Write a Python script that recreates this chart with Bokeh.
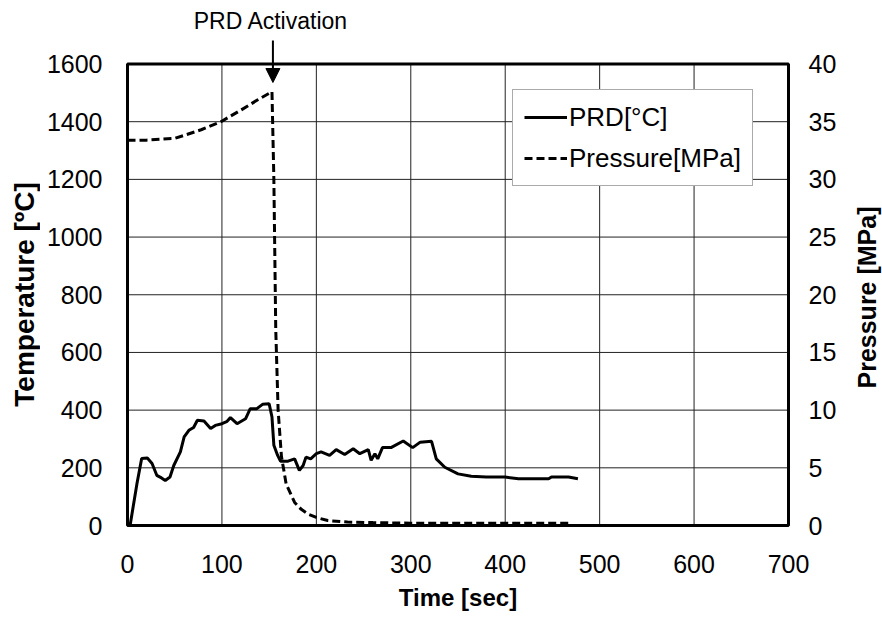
import math
from bokeh.plotting import figure
from bokeh.layouts import row
from bokeh.models import (Range1d, LinearAxis, Legend, LegendItem, Label, Arrow,
                          NormalHead, FixedTicker)
from bokeh.embed import file_html
from bokeh.resources import INLINE

# ---- data ----
temp_time = [0, 3, 10, 15, 21, 26, 31, 36, 40, 45, 49, 56, 60, 65, 70, 74, 81, 88, 93,
             100, 105, 109, 116, 125, 130, 137, 143, 150, 153, 155, 159, 162, 170, 177,
             182, 186, 189, 194, 200, 205, 214, 221, 230, 239, 246, 255, 258, 262, 265,
             270, 279, 292, 302, 310, 322, 327, 336, 350, 364, 380, 400, 414, 446, 449,
             467, 477]
temp_val = [0, 5, 145, 232, 234, 215, 174, 165, 156, 168, 208, 255, 307, 330, 340, 365,
            362, 336, 347, 353, 360, 374, 353, 370, 405, 405, 420, 422, 376, 278, 243,
            223, 223, 231, 191, 208, 237, 231, 249, 255, 243, 263, 246, 266, 249, 263,
            226, 249, 231, 270, 270, 293, 270, 289, 292, 231, 202, 179, 171, 168, 168,
            162, 162, 168, 168, 162]

pres_time = [0, 20, 50, 78, 99, 120, 138, 153, 155, 157, 159.5, 163, 168, 177, 184, 191,
             200, 212, 233, 260, 300, 400, 470]
pres_val = [33.4, 33.4, 33.55, 34.3, 35.0, 36.0, 36.9, 37.6, 30, 17, 10, 6, 3.6, 2.0,
            1.4, 1.0, 0.7, 0.43, 0.3, 0.25, 0.2, 0.2, 0.2]

x_ticks = [0, 100, 200, 300, 400, 500, 600, 700]
temp_ticks = [0, 200, 400, 600, 800, 1000, 1200, 1400, 1600]
pres_ticks = [0, 5, 10, 15, 20, 25, 30, 35, 40]

activation_time = 154
annot_text = "PRD Activation"
x_label = "Time [sec]"
y_label = "Temperature [ºC]"
y2_label = "Pressure [MPa]"

FONT = "Liberation Sans"
W, H = 882, 619
STRIP_W = 40                      # side strips holding the rotated axis titles
BOX_LEFT, BOX_RIGHT = 127, 788    # pixel columns of the plot box
BOX_TOP, BOX_BOTTOM = 63.5, 525   # pixel rows of the plot box
PAD = 3                           # frame padding so the box border is not clipped
FRAME_TOP = 4
FRAME_BOTTOM = BOX_BOTTOM + PAD

t_min, t_max = x_ticks[0], x_ticks[-1]
T_min, T_max = temp_ticks[0], temp_ticks[-1]
P_min, P_max = pres_ticks[0], pres_ticks[-1]

ppx = (BOX_RIGHT - BOX_LEFT) / (t_max - t_min)
ppu = (BOX_BOTTOM - BOX_TOP) / (T_max - T_min)
p_per_T = (P_max - P_min) / (T_max - T_min)

main_w = W - 2 * STRIP_W
border_l = (BOX_LEFT - PAD) - STRIP_W
border_r = (W - STRIP_W) - (BOX_RIGHT + PAD)
border_b = H - FRAME_BOTTOM

x_lo, x_hi = t_min - PAD / ppx, t_max + PAD / ppx
y_lo = T_min - PAD / ppu
y_hi = T_max + (BOX_TOP - FRAME_TOP) / ppu

def ypx(px):
    """temperature-scale value at a pixel row (for annotation placement)"""
    return T_min + (BOX_BOTTOM - px) / ppu

p = figure(width=main_w, height=H, output_backend="svg", toolbar_location=None,
           x_range=Range1d(x_lo, x_hi), y_range=Range1d(y_lo, y_hi),
           min_border_left=border_l, min_border_right=border_r,
           min_border_top=FRAME_TOP, min_border_bottom=border_b)
p.extra_y_ranges = {"p": Range1d(P_min + (y_lo - T_min) * p_per_T,
                                 P_min + (y_hi - T_min) * p_per_T)}

p.outline_line_color = None
p.background_fill_color = "white"
p.border_fill_color = "white"
p.xgrid.visible = False
p.ygrid.visible = False

# grid lines limited to the plot box
p.segment(x0=x_ticks, y0=[T_min] * len(x_ticks), x1=x_ticks, y1=[T_max] * len(x_ticks),
          line_color="#222222", line_width=1)
p.segment(x0=[t_min] * len(temp_ticks), y0=temp_ticks, x1=[t_max] * len(temp_ticks),
          y1=temp_ticks, line_color="#222222", line_width=1)

def style_axis(ax):
    ax.axis_line_color = None
    ax.major_tick_line_color = None
    ax.minor_tick_line_color = None
    ax.major_tick_out = 0
    ax.major_tick_in = 0
    ax.major_label_text_font = FONT
    ax.major_label_text_font_size = "25px"
    ax.major_label_text_color = "black"
    ax.axis_label_text_font = FONT
    ax.axis_label_text_font_style = "bold"
    ax.axis_label_text_color = "black"

xa = p.xaxis[0]
xa.ticker = FixedTicker(ticks=x_ticks)
xa.axis_label = x_label
style_axis(xa)
xa.axis_label_text_font_size = "24px"
xa.major_label_standoff = 26
xa.axis_label_standoff = 8

ya = p.yaxis[0]
ya.ticker = FixedTicker(ticks=temp_ticks)
style_axis(ya)
ya.major_label_standoff = 22

ra = LinearAxis(y_range_name="p", ticker=FixedTicker(ticks=pres_ticks))
style_axis(ra)
ra.major_label_standoff = 17
p.add_layout(ra, "right")

r1 = p.line(temp_time, temp_val, line_color="black", line_width=3)
r2 = p.line(pres_time, pres_val, y_range_name="p", line_color="black",
            line_width=3, line_dash="8 4")

# plot box border
p.quad(left=[t_min], right=[t_max], bottom=[T_min], top=[T_max], fill_color=None,
       line_color="black", line_width=3)

legend = Legend(items=[LegendItem(label="PRD[°C]", renderers=[r1]),
                       LegendItem(label="Pressure[MPa]", renderers=[r2])],
                location=(512 - (BOX_LEFT - PAD), FRAME_BOTTOM - 186))
legend.label_text_font = FONT
legend.label_text_font_size = "26px"
legend.label_text_color = "black"
legend.glyph_width = 43
legend.glyph_height = 32
legend.label_height = 32
legend.label_standoff = 2
legend.padding = 11
legend.spacing = 9
legend.margin = 0
legend.border_line_color = "#555555"
legend.border_line_width = 1
legend.background_fill_color = "white"
legend.background_fill_alpha = 1
p.add_layout(legend)

p.add_layout(Label(x=activation_time - 2, y=ypx(20), text=annot_text,
                   text_align="center", text_baseline="middle", text_font=FONT,
                   text_font_size="23px", text_color="black"))
p.add_layout(Arrow(end=NormalHead(size=14, fill_color="black", line_color="black"),
                   x_start=activation_time, y_start=ypx(40),
                   x_end=activation_time, y_end=ypx(82),
                   line_color="black", line_width=2))

# ---- side strips carrying the rotated axis titles ----
# (the row aligns the strips' frames with the main frame: rows FRAME_TOP..FRAME_BOTTOM)
def strip(text, cx, cy, size):
    s = figure(width=STRIP_W, height=H, output_backend="svg", toolbar_location=None,
               x_range=Range1d(0, STRIP_W),
               y_range=Range1d(H - FRAME_BOTTOM, H - FRAME_TOP),
               min_border=0, min_border_top=FRAME_TOP, min_border_bottom=border_b,
               x_axis_location=None, y_axis_location=None)
    s.outline_line_color = None
    s.xgrid.visible = False
    s.ygrid.visible = False
    s.background_fill_color = "white"
    s.border_fill_color = "white"
    s.add_layout(Label(x=cx, y=H - cy, text=text, angle=math.pi / 2,
                       text_align="center", text_baseline="middle", text_font=FONT,
                       text_font_style="bold", text_font_size=size,
                       text_color="black"))
    return s

left_strip = strip(y_label, 24, 294, "28px")
right_strip = strip(y2_label, 866 - (W - STRIP_W), 297, "25px")

layout = row(left_strip, p, right_strip, spacing=0)
open("out.html", "w").write(file_html(layout, INLINE))
